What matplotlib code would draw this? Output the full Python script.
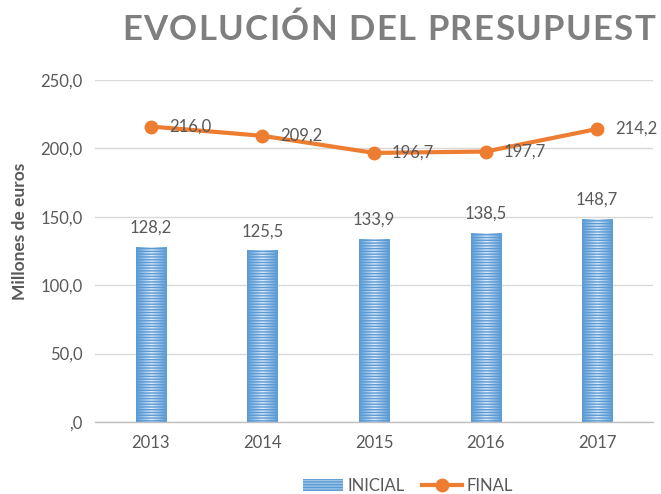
import matplotlib
matplotlib.use("Agg")
import matplotlib.pyplot as plt
import numpy as np
from matplotlib.patches import Patch
from matplotlib.lines import Line2D
from matplotlib.colors import LinearSegmentedColormap

years = ["2013", "2014", "2015", "2016", "2017"]
inicial = [128.2, 125.5, 133.9, 138.5, 148.7]
final = [216.0, 209.2, 196.7, 197.7, 214.2]
yticks = [0, 50, 100, 150, 200, 250]

plt.rcParams['font.family'] = ['Lato', 'DejaVu Sans']
TXT = '#595959'
BLUE = '#5B9BD5'
ORANGE = '#ED7D31'
FS = 12

fig = plt.figure(figsize=(6.61, 4.94), dpi=100)
ax = fig.add_axes([95/661, 1-422/494, 558/661, 342/494])
x = np.arange(len(years))
bw = 0.27

ax.set_xlim(-0.5, len(years)-0.5)
ax.set_ylim(0, 250)

# gradient fill for bars
cmap = LinearSegmentedColormap.from_list('g', [BLUE, '#E2EEF9', BLUE])
grad = np.linspace(0, 1, 64).reshape(1, -1)
bars = ax.bar(x, inicial, width=bw, color='none', linewidth=0, zorder=2)
for b in bars:
    x0, y0 = b.get_x(), b.get_y()
    w, h = b.get_width(), b.get_height()
    im = ax.imshow(grad, cmap=cmap, extent=[x0, x0+w, y0, y0+h], aspect='auto', zorder=2)
    im.set_clip_path(b)
plt.rcParams['hatch.linewidth'] = 1.0
ax.bar(x, inicial, width=bw, facecolor='none', edgecolor=BLUE, hatch='------', linewidth=0, zorder=3)
ax.set_aspect('auto')
ax.set_xlim(-0.5, len(years)-0.5)
ax.set_ylim(0, 250)

for xi, v in zip(x, inicial):
    ax.annotate(f"{v:.1f}".replace('.', ','), (xi, v), xytext=(0, 8), textcoords='offset points',
                ha='center', va='bottom', fontsize=FS, color=TXT, zorder=6)

ax.plot(x, final, color=ORANGE, linewidth=3, marker='o', markersize=9, zorder=4)
for xi, v in zip(x, final):
    ax.annotate(f"{v:.1f}".replace('.', ','), (xi, v), xytext=(13, 0), textcoords='offset points',
                ha='left', va='center', fontsize=FS, color=TXT, zorder=6)

def fmt(t):
    s = f"{t:.1f}".replace('.', ',')
    return ',0' if t == 0 else s
ax.set_yticks(yticks)
ax.set_yticklabels([fmt(t) for t in yticks], fontsize=FS, color=TXT)
ax.set_xticks(x)
ax.set_xticklabels(years, fontsize=FS, color=TXT)
ax.tick_params(axis='both', length=0, pad=9)
ax.grid(axis='y', color='#D9D9D9', linewidth=1, zorder=0)
ax.set_axisbelow(True)
for s in ['top', 'right', 'left']:
    ax.spines[s].set_visible(False)
ax.spines['bottom'].set_color('#BFBFBF')
ax.spines['bottom'].set_linewidth(1)
ax.set_ylabel("Millones de euros", fontsize=12.5, fontweight='bold', color=TXT)
ax.yaxis.set_label_coords(-0.12, 0.556)

handles = [Patch(facecolor='#9DC3E6', edgecolor=BLUE, hatch='------', linewidth=0),
           Line2D([0], [0], color=ORANGE, linewidth=3, marker='o', markersize=9)]
fig.legend(handles, ["INICIAL", "FINAL"], loc='center', bbox_to_anchor=(408/661, 1-486/494),
           ncol=2, frameon=False, fontsize=FS, labelcolor=TXT, handlelength=2.4, columnspacing=1.0,
           handletextpad=0.3)

# title with letter spacing (visible portion as in the reference)
title = "EVOLUCIÓN DEL PRESUPUEST"
fs = 25
fig.canvas.draw()
r = fig.canvas.get_renderer()
def wid(s):
    if not s:
        return 0.0
    t = fig.text(0, 0, s, fontsize=fs, fontweight='bold')
    w = t.get_window_extent(r).width
    t.remove()
    return w
wE = wid("E")
def adv(s):
    return wid(s + "E") - wE if s else 0.0
n = len(title)
full = adv(title[:-1]) + wid(title[-1])
track = (533 - full) / (n - 1)
x0 = 122
for i, ch in enumerate(title):
    px = x0 + adv(title[:i]) + i*track
    fig.text(px/661, 1-30/494, ch, fontsize=fs, fontweight='bold', color='#7F7F7F', va='center', ha='left')

fig.savefig("out.png", dpi=100)
